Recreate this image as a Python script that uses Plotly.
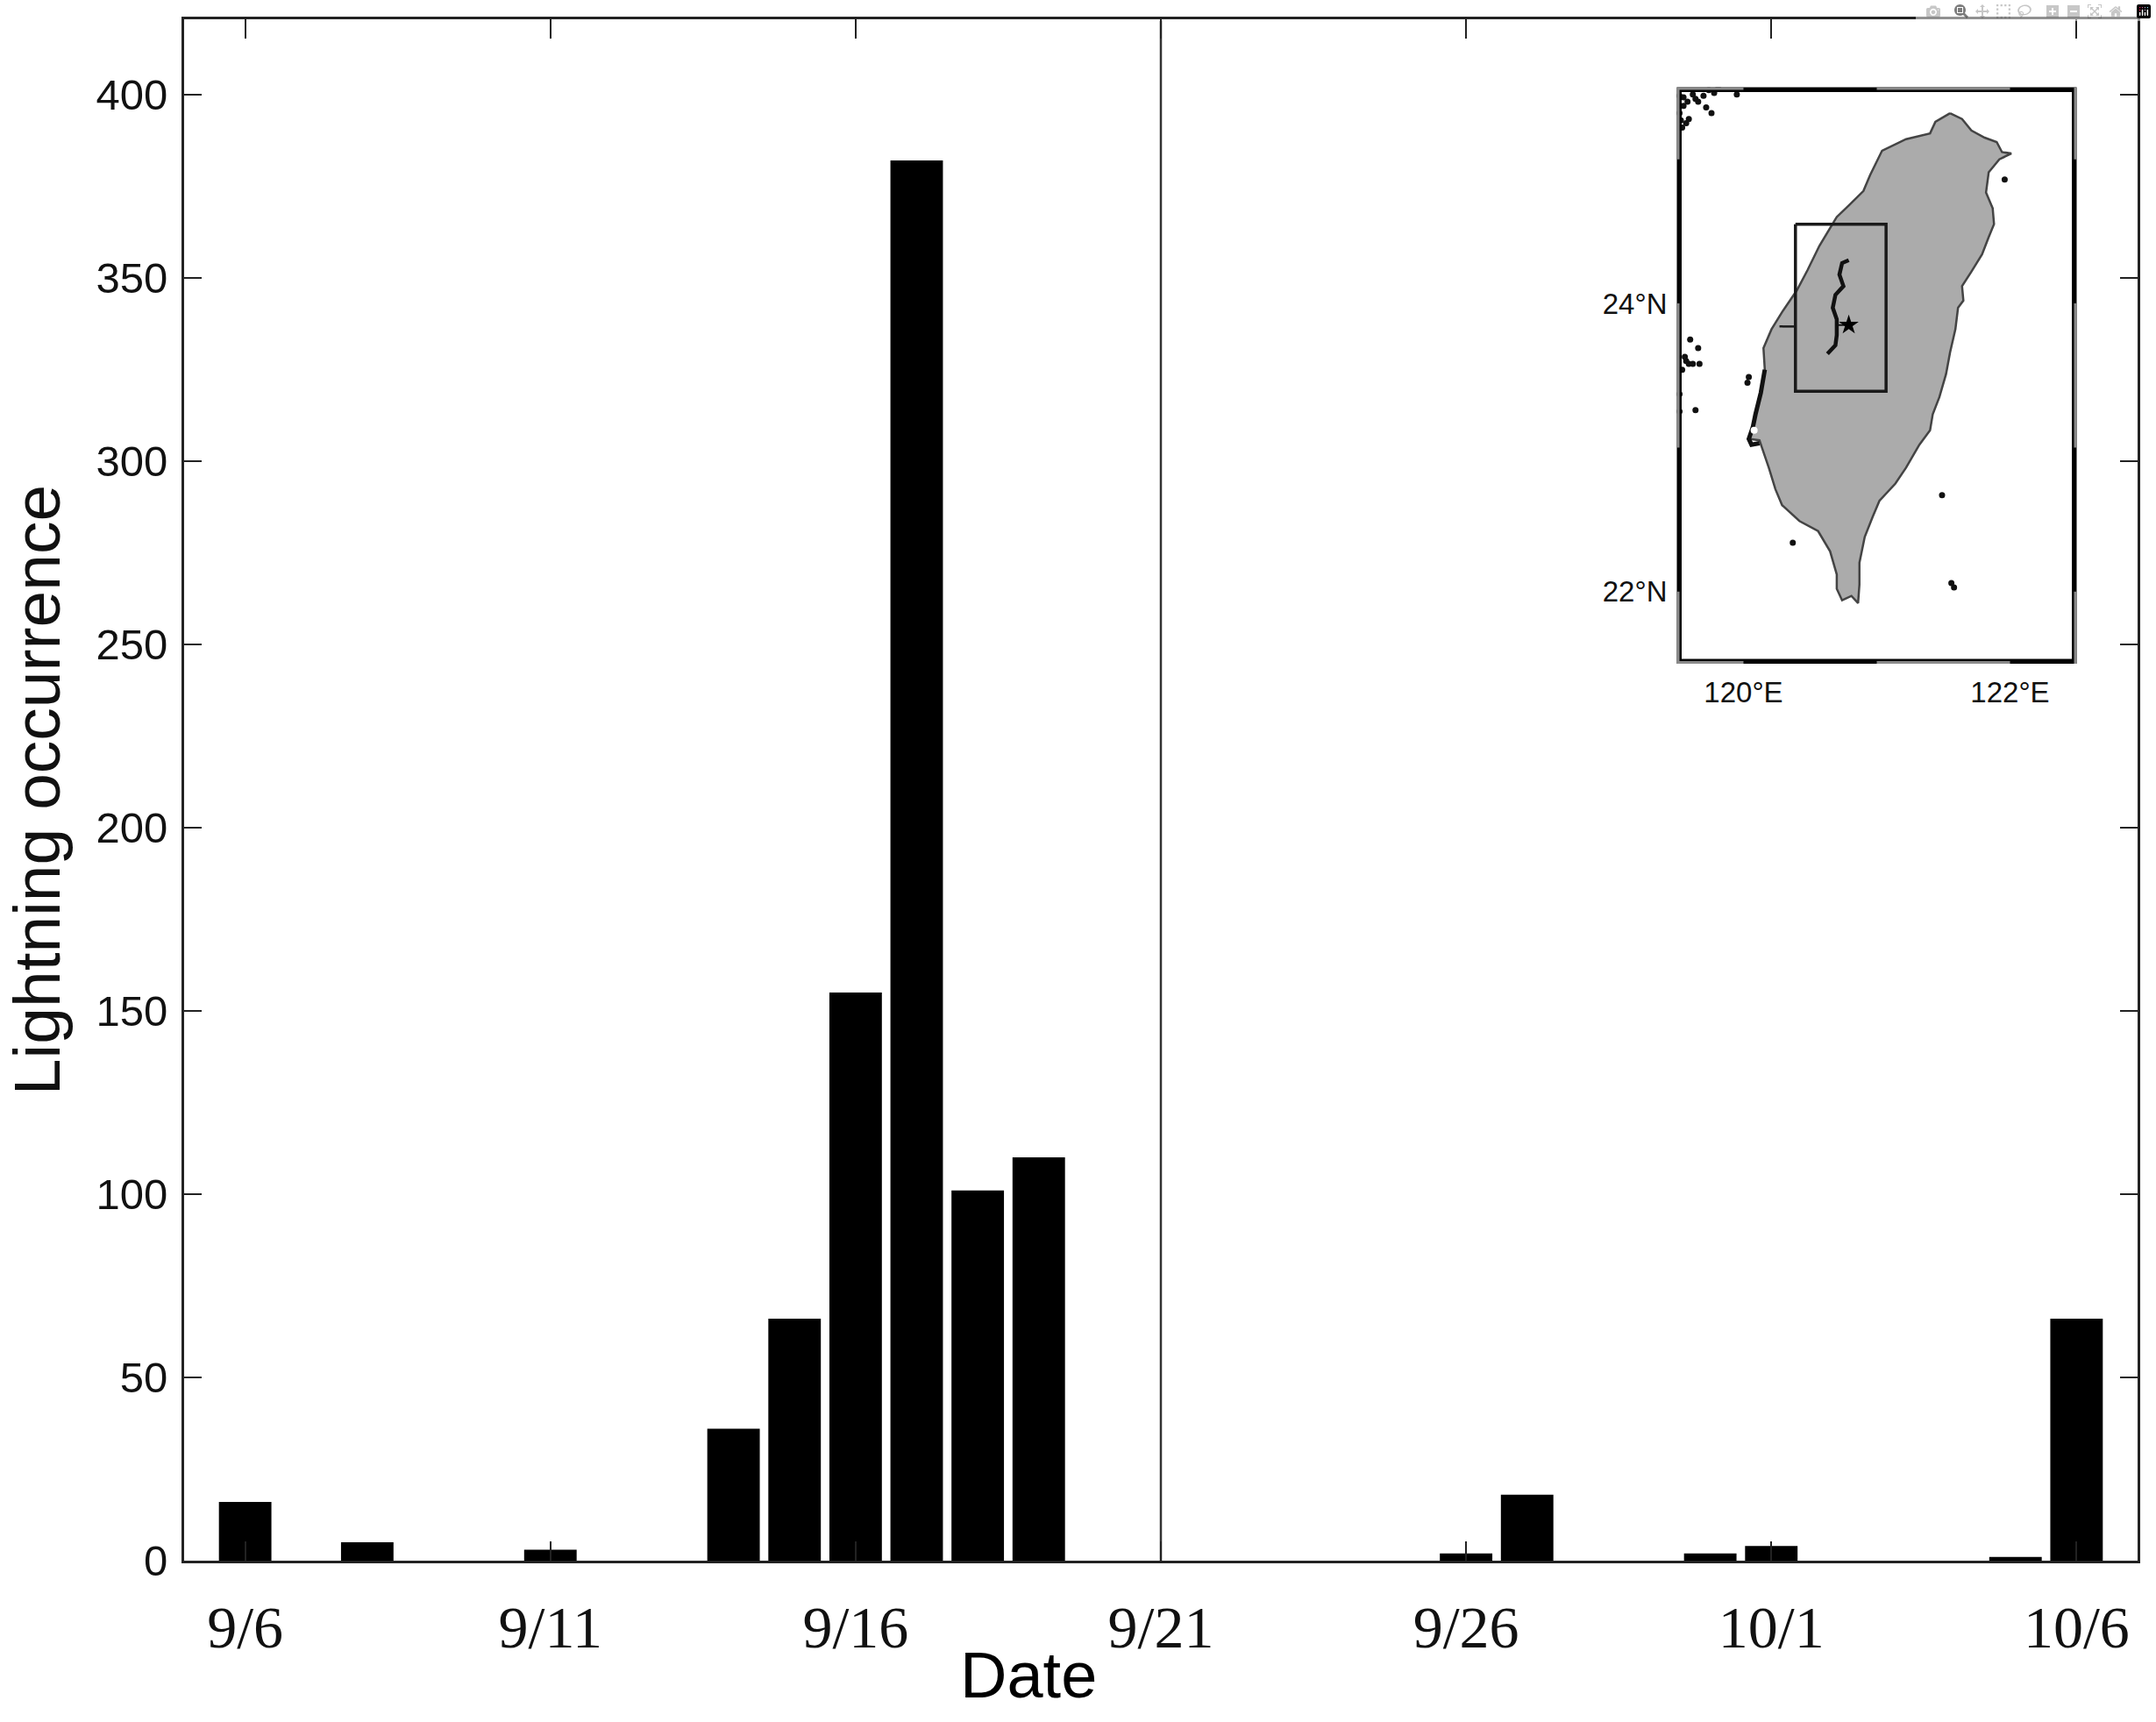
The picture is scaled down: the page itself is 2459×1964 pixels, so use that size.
"""Lightning occurrence per day, with a location map of Taiwan as inset."""

import pandas as pd
import plotly.graph_objects as go

# daily counts (days not listed have no lightning)
bar_dates = ["9/6", "9/8", "9/11", "9/14", "9/15", "9/16", "9/17", "9/18", "9/19",
             "9/26", "9/27", "9/30", "10/1", "10/5", "10/6"]
bar_counts = [16, 5, 3, 36, 66, 155, 382, 101, 110, 2, 18, 2, 4, 1, 66]

x_ticks = ["9/6", "9/11", "9/16", "9/21", "9/26", "10/1", "10/6"]
y_ticks = [0, 50, 100, 150, 200, 250, 300, 350, 400]
event_date = "9/21"

# inset map (degrees)
coast_lon = [121.55, 121.64, 121.71, 121.81, 121.90, 121.94, 122.01, 121.92, 121.84, 121.82,
             121.87, 121.88, 121.84, 121.79, 121.71, 121.64, 121.65, 121.61, 121.59, 121.55,
             121.52, 121.47, 121.42, 121.40, 121.32, 121.22, 121.14, 121.02, 120.97, 120.91,
             120.87, 120.87, 120.86, 120.81, 120.74, 120.70, 120.70, 120.65, 120.56, 120.42,
             120.29, 120.24, 120.19, 120.12, 120.04, 120.07, 120.09, 120.13, 120.16, 120.15,
             120.21, 120.29, 120.40, 120.48, 120.57, 120.70, 120.79, 120.90, 120.95, 121.04,
             121.22, 121.40, 121.44, 121.55]
coast_lat = [25.32, 25.28, 25.20, 25.15, 25.12, 25.05, 25.04, 25.00, 24.91, 24.77,
             24.66, 24.55, 24.46, 24.34, 24.22, 24.12, 24.02, 23.97, 23.82, 23.66,
             23.51, 23.35, 23.23, 23.12, 23.02, 22.86, 22.75, 22.63, 22.52, 22.38,
             22.20, 22.05, 21.92, 21.97, 21.94, 22.02, 22.12, 22.28, 22.42, 22.49,
             22.60, 22.71, 22.86, 23.05, 23.06, 23.14, 23.23, 23.38, 23.54, 23.69,
             23.82, 23.94, 24.09, 24.23, 24.40, 24.60, 24.68, 24.78, 24.89, 25.06,
             25.14, 25.18, 25.26, 25.32]
west_shore_lon = [120.16, 120.13, 120.09, 120.07, 120.04, 120.06, 120.12]
west_shore_lat = [23.54, 23.38, 23.23, 23.14, 23.06, 23.02, 23.03]
lagoon_lon = [120.08]
lagoon_lat = [23.12]
fault_lon = [120.79, 120.74, 120.72, 120.75, 120.69, 120.67, 120.70, 120.70, 120.69, 120.63]
fault_lat = [24.30, 24.28, 24.20, 24.12, 24.06, 23.97, 23.89, 23.78, 23.71, 23.65]
box_lon = [120.39, 121.07, 121.07, 120.39, 120.39]
box_lat = [24.55, 24.55, 23.39, 23.39, 24.55]
river_lon = [120.27, 120.39]
river_lat = [23.84, 23.84]
epicenter_lon = [120.79]
epicenter_lat = [23.85]
island_lon = [119.55, 119.58, 119.62, 119.66, 119.70, 119.74, 119.78, 119.81, 119.52, 119.55, 119.59,
              119.54, 119.57, 119.76, 119.72, 119.95, 119.52, 119.53, 119.64,
              119.60, 119.66, 119.56, 119.59, 119.62, 119.54, 119.57, 119.67, 119.52, 119.52, 119.64,
              121.49, 121.56, 121.58, 120.37, 121.96, 120.04, 120.03]
island_lat = [25.43, 25.40, 25.45, 25.40, 25.44, 25.48, 25.46, 25.49, 25.32, 25.37, 25.28,
              25.22, 25.25, 25.32, 25.36, 25.45, 25.44, 25.27, 25.42,
              23.75, 23.69, 23.63, 23.58, 23.58, 23.54, 23.60, 23.58, 23.37, 23.25, 23.26,
              22.67, 22.06, 22.03, 22.34, 24.86, 23.49, 23.45]
lon_edges = [119.5, 120, 121, 122, 122.5]
lat_edges = [21.5, 22, 23, 24, 25, 25.5]
lon_ticks = [120, 122]
lat_ticks = [22, 24]
lon_labels = ["120°E", "122°E"]
lat_labels = ["22°N", "24°N"]

WIDTH, HEIGHT = 2459, 1964
SANS = "Liberation Sans"
SERIF = "Liberation Serif"

all_days = [f"{d.month}/{d.day}" for d in pd.date_range("2000-09-06", "2000-10-06")]


def map_line(lon, lat, color="black", width=2.5, **kwargs):
    return go.Scatter(x=lon, y=lat, xaxis="x2", yaxis="y2", mode="lines",
                      line=dict(color=color, width=width), hoverinfo="skip", **kwargs)


fig = go.Figure()
fig.add_bar(x=bar_dates, y=bar_counts, marker=dict(color="black", line_width=0), width=0.86)
fig.add_trace(go.Scatter(x=[event_date, event_date], y=[0, 420], mode="lines",
                         line=dict(color="#333333", width=2.5), hoverinfo="skip"))

# inset: land, lines, then the checkered frame
fig.add_trace(map_line(coast_lon, coast_lat, color="#444444", width=2.5,
                       fill="toself", fillcolor="#ababab"))
fig.add_trace(map_line(west_shore_lon, west_shore_lat, color="#111111", width=5))
fig.add_trace(go.Scatter(x=lagoon_lon, y=lagoon_lat, xaxis="x2", yaxis="y2", mode="markers",
                         marker=dict(color="white", size=8), hoverinfo="skip"))
fig.add_trace(go.Scatter(x=island_lon, y=island_lat, xaxis="x2", yaxis="y2", mode="markers",
                         marker=dict(color="#111111", size=7), hoverinfo="skip"))
fig.add_trace(map_line(box_lon, box_lat, color="#1a1a1a", width=3.5))
fig.add_trace(map_line(river_lon, river_lat, color="#1a1a1a", width=2.5))
fig.add_trace(map_line(fault_lon, fault_lat, color="#111111", width=4.5))
fig.add_trace(map_line([fault_lon[7], epicenter_lon[0]], [epicenter_lat[0], epicenter_lat[0]],
                       color="#111111", width=2))
fig.add_trace(go.Scatter(x=epicenter_lon, y=epicenter_lat, xaxis="x2", yaxis="y2", mode="markers",
                         marker=dict(color="black", size=17, symbol="star"), hoverinfo="skip"))

# black outer band, with the grey pieces drawn on top
frame_lon = [lon_edges[0], lon_edges[-1], lon_edges[-1], lon_edges[0], lon_edges[0]]
frame_lat = [lat_edges[0], lat_edges[0], lat_edges[-1], lat_edges[-1], lat_edges[0]]
fig.add_trace(map_line(frame_lon, frame_lat, width=11, cliponaxis=False))
for i in (0, 2):
    for lat in (lat_edges[0], lat_edges[-1]):
        fig.add_trace(map_line(lon_edges[i:i + 2], [lat, lat], color="#8a8a8a", width=6, cliponaxis=False))
for i in (0, 2, 4):
    for lon in (lon_edges[0], lon_edges[-1]):
        fig.add_trace(map_line([lon, lon], lat_edges[i:i + 2], color="#8a8a8a", width=6, cliponaxis=False))

plot_left, plot_right, plot_top, plot_bottom = 210, 2438, 22, 1780
map_left, map_right, map_top, map_bottom = 1912.5, 2368.5, 99.5, 757
plot_w = plot_right - plot_left
plot_h = plot_bottom - plot_top

# "Date" sits left of the axis centre in the original, so it is placed by hand
fig.add_annotation(text="Date", xref="paper", yref="paper", x=(1173 - plot_left) / plot_w,
                   y=(plot_bottom - 1910) / plot_h, xanchor="center", yanchor="middle", showarrow=False,
                   font=dict(family=SANS, size=74, color="black"))

fig.update_layout(
    width=WIDTH,
    height=HEIGHT,
    autosize=False,
    margin=dict(l=plot_left, r=WIDTH - plot_right, t=plot_top, b=HEIGHT - plot_bottom, pad=0),
    paper_bgcolor="white",
    plot_bgcolor="white",
    showlegend=False,
    xaxis=dict(
        type="category",
        categoryorder="array",
        categoryarray=all_days,
        range=[-1, 31],
        tickmode="array",
        tickvals=x_ticks,
        ticktext=x_ticks,
        ticks="inside",
        ticklen=22,
        tickwidth=2,
        tickcolor="#222222",
        showgrid=False,
        showline=True,
        linecolor="#222222",
        linewidth=3,
        mirror="ticks",
        ticklabelstandoff=14,
        tickfont=dict(family=SERIF, size=68, color="#111111"),
    ),
    yaxis=dict(
        range=[0, 420.5],
        tickmode="array",
        tickvals=y_ticks,
        ticks="inside",
        ticklen=20,
        tickwidth=2,
        tickcolor="#222222",
        showgrid=False,
        zeroline=False,
        showline=True,
        linecolor="#222222",
        linewidth=3,
        mirror="ticks",
        ticklabelstandoff=6,
        tickfont=dict(family=SANS, size=49, color="#111111"),
        title=dict(text="Lightning occurrence", font=dict(family=SANS, size=75, color="#111111"), standoff=18),
    ),
    xaxis2=dict(
        domain=[(map_left - plot_left) / plot_w, (map_right - plot_left) / plot_w],
        anchor="y2",
        range=[lon_edges[0], lon_edges[-1]],
        tickmode="array",
        tickvals=lon_ticks,
        ticktext=lon_labels,
        showgrid=False,
        zeroline=False,
        ticklabelstandoff=10,
        tickfont=dict(family=SANS, size=33, color="#111111"),
    ),
    yaxis2=dict(
        domain=[(plot_bottom - map_bottom) / plot_h, (plot_bottom - map_top) / plot_h],
        anchor="x2",
        range=[lat_edges[0], lat_edges[-1]],
        tickmode="array",
        tickvals=lat_ticks,
        ticktext=lat_labels,
        showgrid=False,
        zeroline=False,
        ticklabelstandoff=10,
        tickfont=dict(family=SANS, size=33, color="#111111"),
    ),
)

# the default page margin would push the plot 8px off
fig.write_html("out.html", post_script="document.body.style.margin = '0';")
